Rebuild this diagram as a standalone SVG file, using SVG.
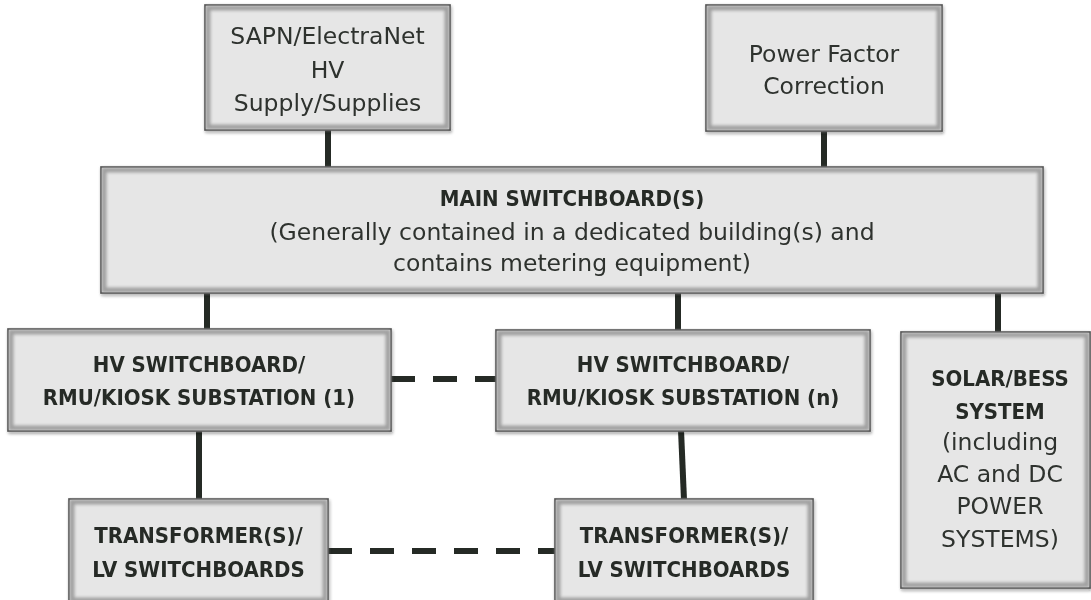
<svg xmlns="http://www.w3.org/2000/svg" width="1091" height="600" viewBox="0 0 1091 600">
  <defs>
    <filter id="soft" x="-5%" y="-5%" width="110%" height="110%">
      <feGaussianBlur stdDeviation="1.6"/>
    </filter>
    <filter id="drop" x="-5%" y="-5%" width="110%" height="115%">
      <feGaussianBlur in="SourceAlpha" stdDeviation="1.5"/>
      <feOffset dx="0.5" dy="1.5" result="b"/>
      <feComponentTransfer><feFuncA type="linear" slope="0.35"/></feComponentTransfer>
      <feMerge><feMergeNode/><feMergeNode in="SourceGraphic"/></feMerge>
    </filter>
  </defs>
  <style>
    .box { fill: #e6e6e6; stroke: #454545; stroke-width: 1.6; }
    .bevel { fill: none; stroke: #a0a0a0; stroke-width: 5; filter: url(#soft); }
    .t { font-family: "DejaVu Sans", "Liberation Sans", sans-serif; font-size: 23.5px; fill: #2e322e; text-anchor: middle; }
    .b { font-family: "DejaVu Sans Condensed", "DejaVu Sans", sans-serif; font-stretch: condensed; font-size: 22px; font-weight: bold; fill: #262b26; text-anchor: middle; }
    .line { stroke: #252a25; stroke-width: 6; fill: none; }
    .dash { stroke: #252a25; stroke-width: 6; fill: none; stroke-dasharray: 24 18; }
  </style>

  <g id="connectors">
    <line class="line" x1="328" y1="130" x2="328" y2="168"/>
    <line class="line" x1="824" y1="131" x2="824" y2="168"/>
    <line class="line" x1="207" y1="292" x2="207" y2="330"/>
    <line class="line" x1="678" y1="292" x2="678" y2="331"/>
    <line class="line" x1="998" y1="292" x2="998" y2="333"/>
    <line class="line" x1="199" y1="430" x2="199" y2="500"/>
    <line class="line" x1="681" y1="430" x2="684" y2="500"/>
    <line class="dash" x1="391" y1="379" x2="496" y2="379"/>
    <line class="dash" x1="328" y1="551" x2="555" y2="551"/>
  </g>

  <g id="node-sapn" filter="url(#drop)">
    <rect class="box" x="205" y="5" width="245" height="125"/>
    <rect class="bevel" x="208" y="8" width="239" height="119"/>
    <text class="t" x="327.5" y="44">SAPN/ElectraNet</text>
    <text class="t" x="327.5" y="78">HV</text>
    <text class="t" x="327.5" y="111">Supply/Supplies</text>
  </g>

  <g id="node-pfc" filter="url(#drop)">
    <rect class="box" x="706" y="5" width="236" height="126"/>
    <rect class="bevel" x="709" y="8" width="230" height="120"/>
    <text class="t" x="824" y="62">Power Factor</text>
    <text class="t" x="824" y="94">Correction</text>
  </g>

  <g id="node-main" filter="url(#drop)">
    <rect class="box" x="101" y="167" width="942" height="126"/>
    <rect class="bevel" x="104" y="170" width="936" height="120"/>
    <text class="b" x="572" y="206">MAIN SWITCHBOARD(S)</text>
    <text class="t" x="572" y="240">(Generally contained in a dedicated building(s) and</text>
    <text class="t" x="572" y="271">contains metering equipment)</text>
  </g>

  <g id="node-hv1" filter="url(#drop)">
    <rect class="box" x="8" y="329" width="383" height="102"/>
    <rect class="bevel" x="11" y="332" width="377" height="96"/>
    <text class="b" x="199" y="372">HV SWITCHBOARD/</text>
    <text class="b" x="199" y="405">RMU/KIOSK SUBSTATION (1)</text>
  </g>

  <g id="node-hvn" filter="url(#drop)">
    <rect class="box" x="496" y="330" width="374" height="101"/>
    <rect class="bevel" x="499" y="333" width="368" height="95"/>
    <text class="b" x="683" y="372">HV SWITCHBOARD/</text>
    <text class="b" x="683" y="405">RMU/KIOSK SUBSTATION (n)</text>
  </g>

  <g id="node-solar" filter="url(#drop)">
    <rect class="box" x="901" y="332" width="189" height="256"/>
    <rect class="bevel" x="904" y="335" width="183" height="250"/>
    <text class="b" x="1000" y="386">SOLAR/BESS</text>
    <text class="b" x="1000" y="419">SYSTEM</text>
    <text class="t" x="1000" y="450">(including</text>
    <text class="t" x="1000" y="482">AC and DC</text>
    <text class="t" x="1000" y="514">POWER</text>
    <text class="t" x="1000" y="547">SYSTEMS)</text>
  </g>

  <g id="node-t1" filter="url(#drop)">
    <rect class="box" x="69" y="499" width="259" height="104"/>
    <rect class="bevel" x="72" y="502" width="253" height="98"/>
    <text class="b" x="198.5" y="543">TRANSFORMER(S)/</text>
    <text class="b" x="198.5" y="577">LV SWITCHBOARDS</text>
  </g>

  <g id="node-tn" filter="url(#drop)">
    <rect class="box" x="555" y="499" width="258" height="104"/>
    <rect class="bevel" x="558" y="502" width="252" height="98"/>
    <text class="b" x="684" y="543">TRANSFORMER(S)/</text>
    <text class="b" x="684" y="577">LV SWITCHBOARDS</text>
  </g>
</svg>
